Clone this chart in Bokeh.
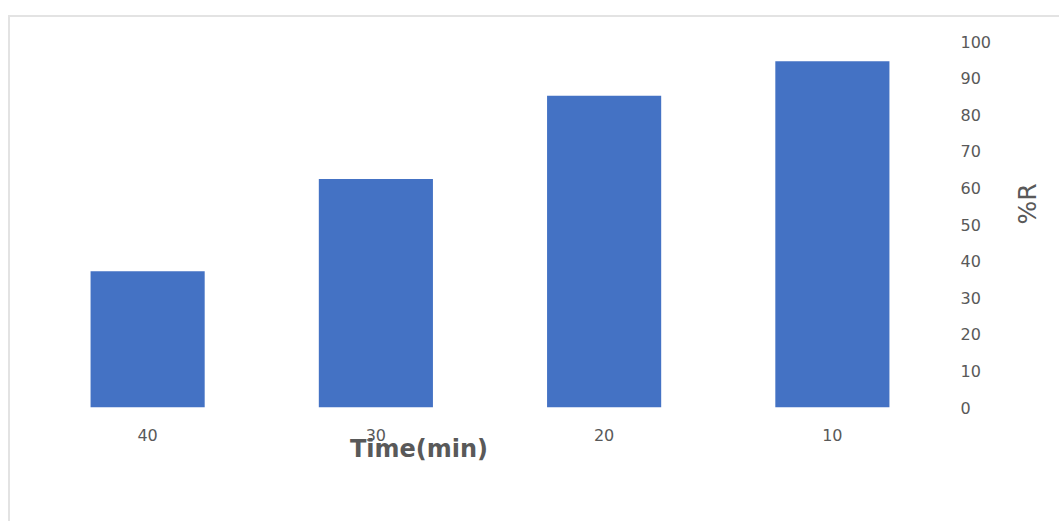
import math
from bokeh.plotting import figure
from bokeh.models import Range1d, FactorRange
from bokeh.embed import file_html
from bokeh.resources import INLINE

# Retention (%R) against reaction time
times = ["40", "30", "20", "10"]
percent_r = [37.2, 62.4, 85.2, 94.6]
y_ticks = [0, 10, 20, 30, 40, 50, 60, 70, 80, 90, 100]

BAR = "#4472C4"
TEXT = "#595959"
FONT = "DejaVu Sans"

p = figure(
    width=1051, height=506,
    x_range=FactorRange(factors=times, range_padding=0, factor_padding=0),
    y_range=Range1d(0, 100),
    y_axis_location="right",
    output_backend="svg",
    toolbar_location=None,
    min_border_left=23, min_border_top=24,
    min_border_right=115, min_border_bottom=116,
)
p.margin = (15, 0, 0, 8)
p.styles = {"border-top": "2px solid #e3e3e3", "border-left": "2px solid #e3e3e3"}
p.outline_line_color = None
p.xgrid.grid_line_color = None
p.ygrid.grid_line_color = None

p.vbar(x=times, top=percent_r, width=0.5, color=BAR, line_color=None)

xa = p.xaxis[0]
xa.axis_line_color = None
xa.major_tick_line_color = None
xa.minor_tick_line_color = None
xa.major_tick_out = 0
xa.major_label_standoff = 21
xa.major_label_text_font = FONT
xa.major_label_text_font_size = "16px"
xa.major_label_text_color = TEXT
# title sits left of centre, overlapping the "30" label
xa.axis_label = "Time(min)" + "\u00a0" * 17
xa.axis_label_text_font = FONT
xa.axis_label_text_font_style = "bold"
xa.axis_label_text_font_size = "24px"
xa.axis_label_text_color = TEXT
xa.axis_label_standoff = -9

ya = p.yaxis[0]
ya.ticker = y_ticks
ya.axis_line_color = None
ya.major_tick_line_color = None
ya.minor_tick_line_color = None
ya.major_tick_out = 0
ya.major_label_standoff = 14
ya.major_label_text_font = FONT
ya.major_label_text_font_size = "16px"
ya.major_label_text_color = TEXT
ya.axis_label = "%R"
ya.axis_label_text_font = FONT
ya.axis_label_text_font_style = "normal"
ya.axis_label_text_font_size = "25px"
ya.axis_label_text_color = TEXT
ya.axis_label_standoff = 33
# read bottom to top
if "axis_label_orientation" in ya.properties():
    ya.axis_label_orientation = math.pi / 2

open("out.html", "w").write(file_html(p, INLINE))
